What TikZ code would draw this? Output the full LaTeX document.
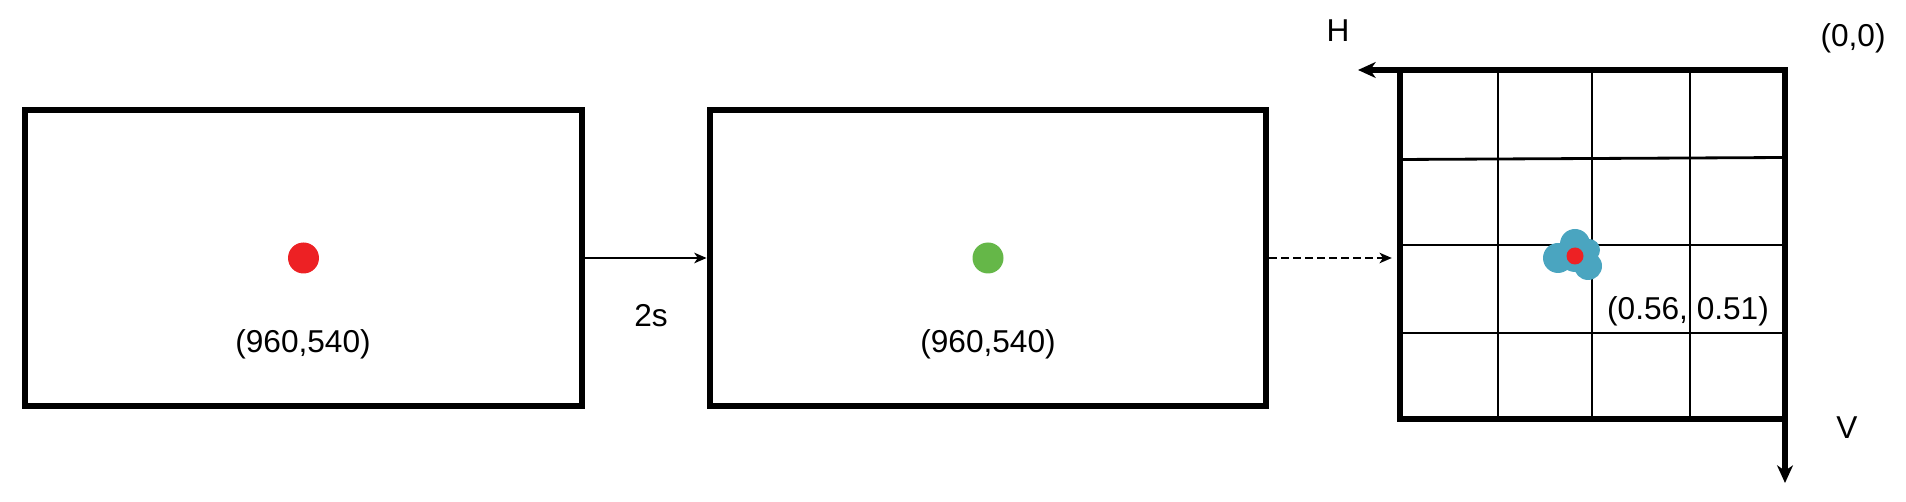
\documentclass[tikz,border=0pt]{standalone}
\usepackage{fontspec}
\setmainfont{Liberation Sans}
\usetikzlibrary{shapes,arrows,arrows.meta,positioning}
\definecolor{dotred}{RGB}{237,33,36}
\definecolor{dotgreen}{RGB}{101,183,72}
\definecolor{blobblue}{RGB}{74,165,192}
\tikzstyle{screen}=[rectangle, draw, line width=3.4pt, minimum width=11.14cm, minimum height=5.92cm, inner sep=0pt]
\tikzstyle{gazegrid}=[rectangle, draw, line width=3.4pt, minimum width=7.7cm, minimum height=6.98cm, inner sep=0pt]
\tikzstyle{dot}=[circle, inner sep=0pt, minimum size=0.62cm]
\tikzstyle{coord}=[inner sep=0pt]
\tikzstyle{cell}=[line width=1.6pt]
\tikzstyle{axis}=[line width=3.4pt, -{Stealth[length=10pt, width=9pt, inset=3pt]}]
\tikzstyle{link}=[line width=1.1pt, -{Stealth[length=7pt, width=6pt, inset=2pt]}]

\begin{document}
\begin{tikzpicture}[x=0.02cm, y=-0.02cm, every node/.style={font=\fontsize{18}{21}\selectfont}]
\useasboundingbox (0,0) rectangle (1906,502);

% screens
\node[screen](s1) at (303.5,258) {};
\node[screen](s2) at (988,258) {};
\node[dot, fill=dotred](d1) at (s1.center) {};
\node[dot, fill=dotgreen](d2) at (s2.center) {};
\node[coord](l1) at (303,344) {(960,540)};
\node[coord](l2) at (988,344) {(960,540)};

% grid
\foreach \x in {1498,1592,1690} \draw[cell] (\x,70) -- (\x,419);
\draw[cell] (1400,159.5) -- (1785,157.5);
\foreach \y in {245,333} \draw[cell] (1400,\y) -- (1785,\y);
\node[gazegrid](g) at (1592.5,244.5) {};

% gaze samples
\fill[blobblue] (1575,256) circle (16) (1558,258) circle (15) (1575,244) circle (15)
  (1589,250) circle (11) (1588,266) circle (14);
\node[dot, fill=dotred, minimum size=0.34cm](d3) at (1575,256) {};
\node[coord](l3) at (1688,311) {(0.56, 0.51)};

% axes
\coordinate (o) at (1785,70);
\coordinate (h) at (1358,70);
\coordinate (v) at (1785,483);
\draw[axis] (o) -- (h);
\draw[axis] (o) -- (v);
\node[coord](lh) at (1338,31) {H};
\node[coord](lo) at (1853,38) {(0,0)};
\node[coord](lv) at (1847,428) {V};

\draw[link](s1.east) -- (s2.west);
\node[coord](t) at (651,316) {2s};
\draw[link, dash pattern=on 4.5pt off 2.3pt, shorten >=3pt](s2.east) -- (s2.east -| g.west);

\end{tikzpicture}
\end{document}
